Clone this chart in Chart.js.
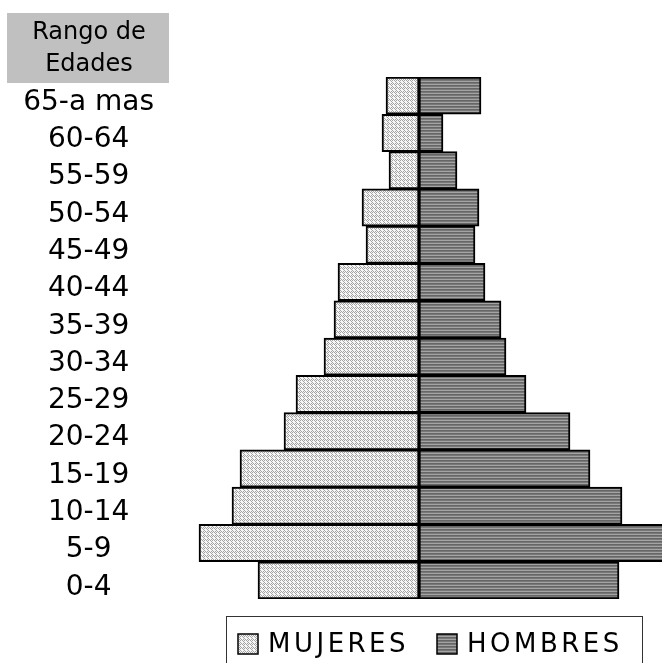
<!DOCTYPE html>
<html>
<head>
<meta charset="utf-8">
<script src="https://cdn.jsdelivr.net/npm/chart.js@4"></script>
<style>
  body { margin: 0; background: #fff; }
  #wrap { width: 662px; height: 663px; }
</style>
</head>
<body>
<div id="wrap"><canvas id="piramide" width="662" height="663"></canvas></div>
<script>
const rangos = ['65-a mas', '60-64', '55-59', '50-54', '45-49', '40-44', '35-39', '30-34', '25-29', '20-24', '15-19', '10-14', '5-9', '0-4'];
const mujeres = [33, 37, 30, 57, 53, 81, 85, 95, 123, 135, 179, 187, 220, 161];
const hombres = [62, 24, 38, 60, 56, 66, 82, 87, 107, 151, 171, 203, 255, 200];
const titulo = ['Rango de', 'Edades'];

Chart.defaults.font.family = "'DejaVu Sans', sans-serif";
Chart.defaults.color = '#000';

// Motifs de remplissage (pointillé clair / rayures grises)
function motifPointille() {
    const c = document.createElement('canvas');
    c.width = 4; c.height = 4;
    const g = c.getContext('2d');
    g.fillStyle = '#f6f6f6';
    g.fillRect(0, 0, 4, 4);
    g.fillStyle = '#a4a4a4';
    [[0, 0], [2, 0], [1, 1], [3, 1], [0, 2], [2, 2], [1, 3], [3, 3]]
        .forEach((p, i) => { if (i % 3 !== 2) g.fillRect(p[0], p[1], 1, 1); });
    return g.createPattern(c, 'repeat');
}

function motifRayures() {
    const c = document.createElement('canvas');
    c.width = 4; c.height = 3;
    const g = c.getContext('2d');
    g.fillStyle = '#a4a4a4'; g.fillRect(0, 0, 4, 1);
    g.fillStyle = '#666666'; g.fillRect(0, 1, 4, 1);
    g.fillStyle = '#787878'; g.fillRect(0, 2, 4, 1);
    return g.createPattern(c, 'repeat');
}

const fondMujeres = motifPointille();
const fondHombres = motifRayures();

// En-tête gris + légende encadrée
const decorPlugin = {
    id: 'decor',
    afterDraw(chart) {
        const ctx = chart.ctx;
        ctx.save();

        // En-tête "Rango de Edades"
        ctx.fillStyle = '#c0c0c0';
        ctx.fillRect(7, 13, 162, 70);
        ctx.fillStyle = '#000';
        ctx.font = "24px 'DejaVu Sans'";
        ctx.textAlign = 'center';
        ctx.textBaseline = 'alphabetic';
        ctx.fillText(titulo[0], 89, 39);
        ctx.fillText(titulo[1], 89, 71);

        // Cadre de la légende
        ctx.strokeStyle = '#333';
        ctx.lineWidth = 1;
        ctx.strokeRect(226.5, 616.5, 416, 60);

        const items = [
            { x: 238, texte: chart.data.datasets[0].label, fond: fondMujeres },
            { x: 437, texte: chart.data.datasets[1].label, fond: fondHombres }
        ];
        ctx.font = "26px 'DejaVu Sans'";
        ctx.textAlign = 'left';
        if ('letterSpacing' in ctx) ctx.letterSpacing = '3.5px';
        items.forEach(it => {
            ctx.fillStyle = it.fond;
            ctx.fillRect(it.x, 634, 20, 20);
            ctx.strokeStyle = '#000';
            ctx.lineWidth = 1.5;
            ctx.strokeRect(it.x, 634, 20, 20);
            ctx.fillStyle = '#000';
            ctx.fillText(it.texte, it.x + 30, 652);
        });
        ctx.restore();
    }
};

const ctx = document.getElementById('piramide').getContext('2d');

new Chart(ctx, {
    type: 'bar',
    data: {
        labels: rangos,
        datasets: [
            {
                label: 'MUJERES',
                data: mujeres.map(v => -v),
                backgroundColor: fondMujeres,
                borderColor: '#000',
                borderWidth: 2,
                borderSkipped: false,
                categoryPercentage: 1,
                barPercentage: 1
            },
            {
                label: 'HOMBRES',
                data: hombres,
                backgroundColor: fondHombres,
                borderColor: '#000',
                borderWidth: 2,
                borderSkipped: false,
                categoryPercentage: 1,
                barPercentage: 1
            }
        ]
    },
    options: {
        indexAxis: 'y',
        responsive: false,
        animation: false,
        layout: { padding: { top: 77, bottom: 64, left: 0, right: 0 } },
        scales: {
            x: {
                stacked: true,
                display: false,
                min: -243,
                max: 243
            },
            y: {
                stacked: true,
                grid: { display: false, drawTicks: false },
                border: { display: false },
                ticks: {
                    crossAlign: 'center',
                    padding: 22,
                    labelOffset: 7,
                    font: { size: 28 },
                    color: '#000'
                },
                afterFit(scale) {
                    scale.width = 176;
                }
            }
        },
        plugins: {
            legend: { display: false },
            tooltip: { enabled: false }
        }
    },
    plugins: [decorPlugin]
});
</script>
</body>
</html>
